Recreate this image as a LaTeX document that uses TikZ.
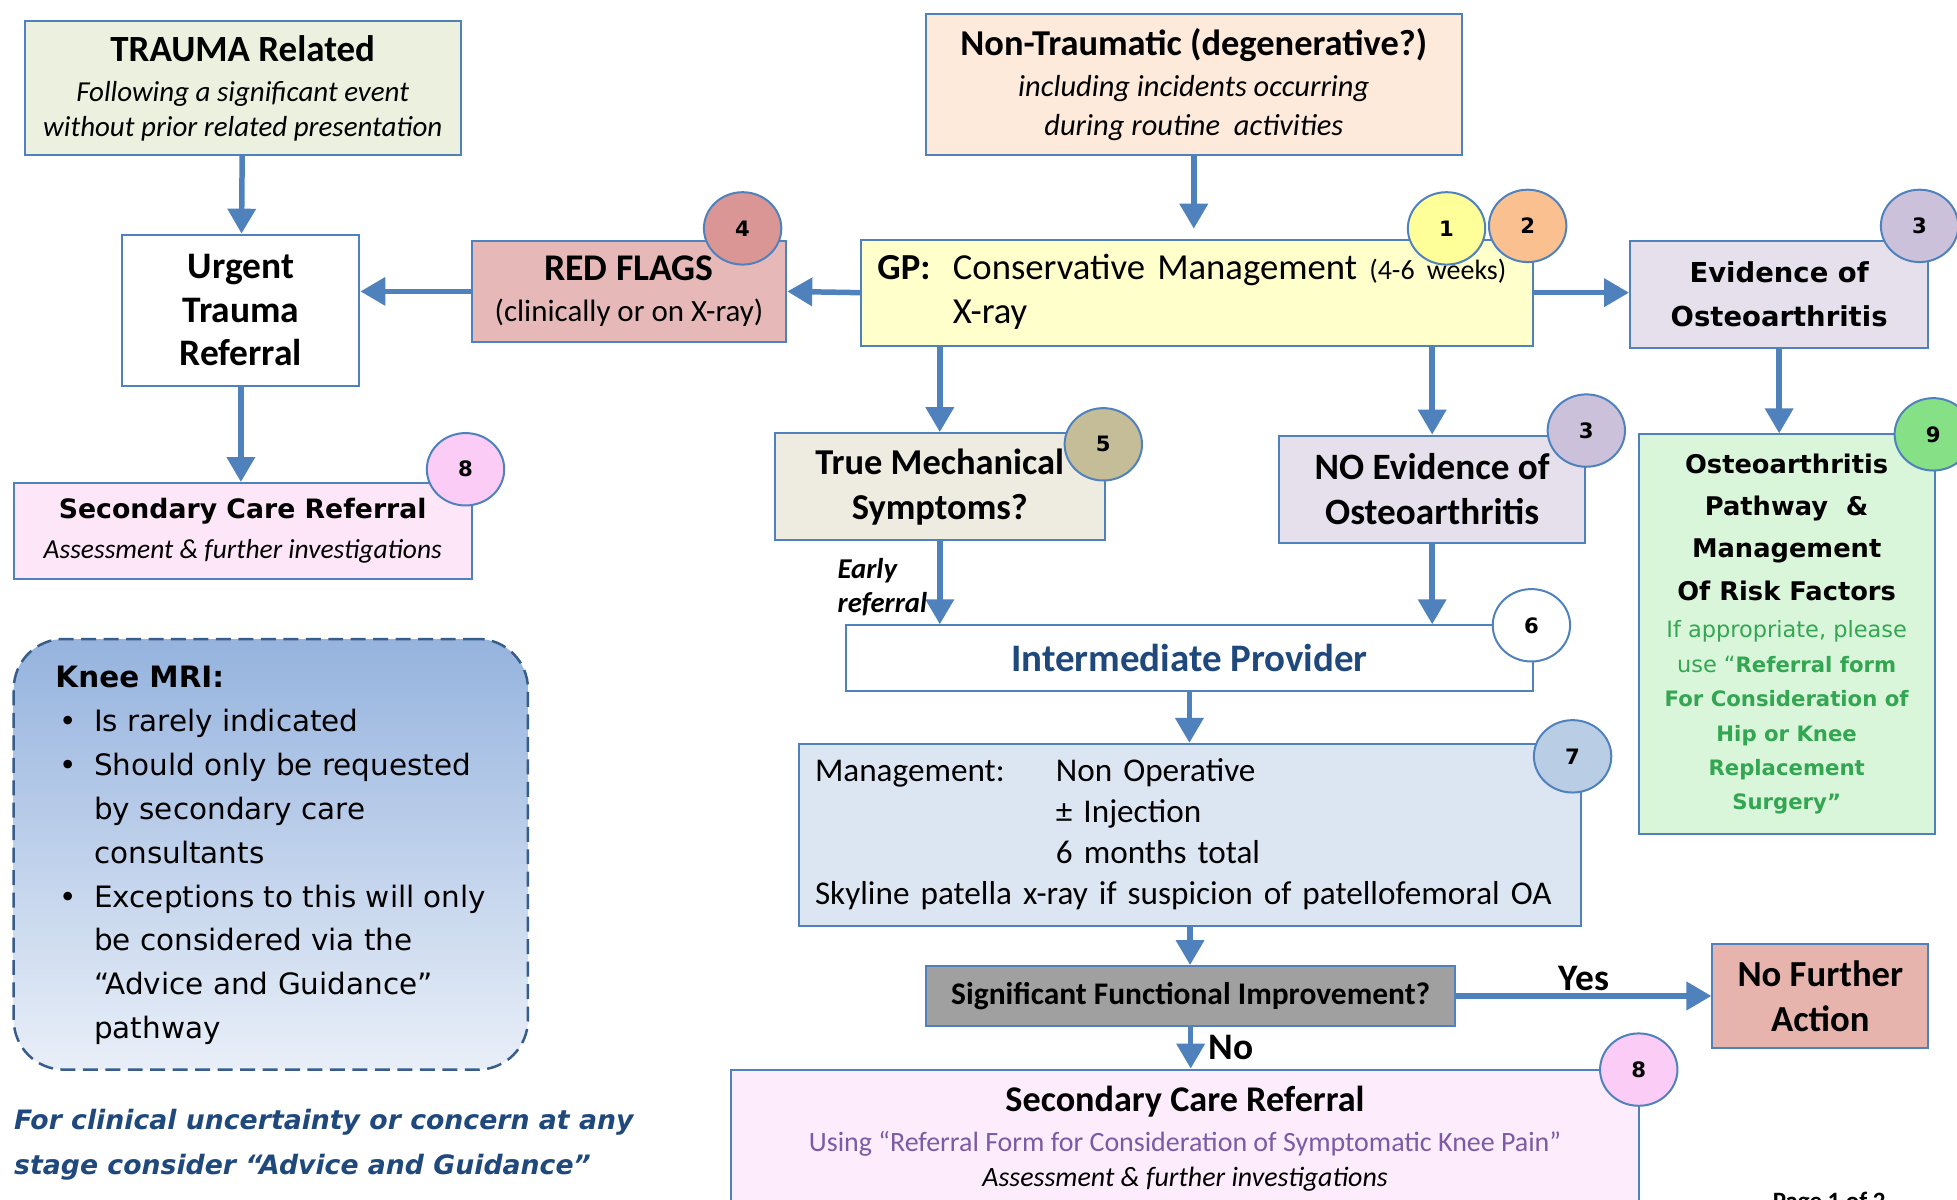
\documentclass[tikz,border=0pt]{standalone}
\usepackage{fontspec}
\setmainfont{Carlito}
\newfontfamily\vfont{DejaVu Sans}
\usetikzlibrary{arrows.meta,shapes.geometric}
\newcommand{\fsz}[2]{\fontsize{#1}{#2}\selectfont}
\newcommand{\oahead}[1]{{\color{black}\fsz{10.3}{13.8}#1}}
\definecolor{bordblue}{RGB}{79,129,189}
\definecolor{traumafill}{RGB}{235,241,222}
\definecolor{nontraumafill}{RGB}{253,234,218}
\definecolor{redfill}{RGB}{230,185,184}
\definecolor{gpfill}{RGB}{255,255,204}
\definecolor{oafill}{RGB}{229,224,236}
\definecolor{mechfill}{RGB}{238,236,225}
\definecolor{pathfill}{RGB}{218,246,218}
\definecolor{pinkfill}{RGB}{252,230,248}
\definecolor{pinkpale}{RGB}{253,236,251}
\definecolor{mgmtfill}{RGB}{220,230,242}
\definecolor{greyfill}{RGB}{160,160,160}
\definecolor{nfafill}{RGB}{230,180,172}
\definecolor{mritop}{RGB}{149,179,222}
\definecolor{mribot}{RGB}{233,239,248}
\definecolor{mriline}{RGB}{56,93,138}
\definecolor{darkblue}{RGB}{31,73,125}
\definecolor{oagreen}{RGB}{51,166,82}
\definecolor{formpurple}{RGB}{123,90,166}
% badge colours
\definecolor{bdgred}{RGB}{217,150,148}
\definecolor{bdgyellow}{RGB}{255,255,153}
\definecolor{bdgorange}{RGB}{250,192,144}
\definecolor{bdglilac}{RGB}{204,193,218}
\definecolor{bdgkhaki}{RGB}{196,189,151}
\definecolor{bdggreen}{RGB}{134,224,134}
\definecolor{bdgpink}{RGB}{250,204,246}
\definecolor{bdgblue}{RGB}{185,205,229}
\begin{document}
\begin{tikzpicture}[x=0.5pt,y=-0.5pt,
  every node/.style={inner sep=0pt,align=center},
  box/.style={draw=bordblue,line width=0.8pt,rectangle},
  badge/.style={draw=bordblue,line width=0.8pt,ellipse,minimum width=31pt,minimum height=29pt,
    font=\vfont\bfseries\fsz{8.5}{10}},
  flow/.style={draw=bordblue,line width=2.2pt,-{Triangle[length=10pt,width=11pt]}},
  elabel/.style={font=\bfseries\fsz{15}{17}}
]
\useasboundingbox (0,0) rectangle (1568,961);
\fill[white] (0,0) rectangle (1568,961);

% the boxes
\node[box,fill=traumafill,minimum width=174.5pt,minimum height=53.5pt,font=\itshape\fsz{11.6}{14}] (trauma) at (194.5,70.5)
  {{\upshape\bfseries\fsz{14.8}{14}TRAUMA Related}\\[2pt]Following a significant event\\without prior related presentation};
\node[box,fill=nontraumafill,minimum width=214.5pt,minimum height=56.5pt,font=\itshape\fsz{12.2}{15.5}] (nontrauma) at (956.5,67.5)
  {{\upshape\bfseries\fsz{14.6}{15.5}Non-Traumatic (degenerative?)}\\[1pt]including incidents occurring\\during routine\ \ activities};
\node[box,fill=white,minimum width=95pt,minimum height=60.5pt,font=\bfseries\fsz{15}{17.5}] (urgent) at (193,248.5) {Urgent\\Trauma\\Referral};
\node[box,fill=redfill,minimum width=126pt,minimum height=40.5pt,font=\fsz{12.4}{16.5}] (redflags) at (504,233.5)
  {{\bfseries\fsz{15.1}{16.5}RED FLAGS}\\(clinically or on X-ray)};
\node[box,fill=gpfill,text width=256pt,inner xsep=6.5pt,minimum height=42.5pt,align=left,font=\fsz{14.7}{17.5}] (gp) at (959,234.5)
  {\begin{tabular}{@{}l@{\hspace{9pt}}l@{}}\textbf{GP:}&Conservative Management {\fsz{11.2}{14}(4-6 weeks)}\\&X-ray\end{tabular}};
\node[box,fill=oafill,minimum width=119.5pt,minimum height=43pt,font=\vfont\bfseries\fsz{11}{17.5}] (evid) at (1425.5,236) {Evidence of\\Osteoarthritis};
\node[box,fill=mechfill,minimum width=132pt,minimum height=43pt,font=\bfseries\fsz{14.6}{18}] (mech) at (753,390) {True Mechanical\\Symptoms?};
\node[box,fill=oafill,minimum width=122.5pt,minimum height=43pt,font=\bfseries\fsz{14.9}{18}] (noevid) at (1147.5,392) {NO Evidence of\\Osteoarthritis};
\node[box,fill=pathfill,minimum width=118.5pt,minimum height=160pt,text=oagreen,font=\vfont\bfseries\fsz{8.5}{13.8}] (oapath) at (1431.5,508)
  {\oahead{Osteoarthritis}\\[3.2pt]\oahead{Pathway\ \ \&}\\[3.2pt]\oahead{Management}\\[3.2pt]\oahead{Of Risk Factors}\\[1.2pt]
   {\mdseries\fsz{9}{13.8}If appropriate, please}\\{\mdseries\fsz{9}{13.8}use “}Referral form\\For Consideration of\\Hip or Knee\\Replacement\\Surgery”};
\node[box,fill=pinkfill,minimum width=183.5pt,minimum height=38.5pt,font=\itshape\fsz{11}{16}] (secleft) at (194.5,425.5)
  {{\upshape\vfont\bfseries\fsz{10.7}{16}Secondary Care Referral}\\Assessment \& further investigations};

% knee MRI note
\node[draw=mriline,line width=1pt,dash pattern=on 6pt off 3pt,rounded corners=20pt,top color=mritop,bottom color=mribot,
  minimum width=206pt,minimum height=172.5pt,font=\vfont\fsz{11.8}{17.6}] (mri) at (217,684.5)
  {\begin{tabular}{@{\hspace{1.5pt}}p{14pt}@{}l@{}}
   \multicolumn{2}{@{}l@{}}{\bfseries Knee MRI:}\\
   \textbullet&Is rarely indicated\\
   \textbullet&Should only be requested\\
   &by secondary care\\
   &consultants\\
   \textbullet&Exceptions to this will only\\
   &be considered via the\\
   &“Advice and Guidance”\\
   &pathway
   \end{tabular}};
\node[anchor=west,align=left,text=darkblue,font=\vfont\bfseries\itshape\fsz{10.7}{18}] (advice) at (11,917)
  {For clinical uncertainty or concern at any\\stage consider “Advice and Guidance”};

\node[box,fill=white,minimum width=275pt,minimum height=26.5pt,text=darkblue,font=\bfseries\fsz{15.6}{18}] (inter) at (953,527.5) {Intermediate Provider};
\node[box,fill=mgmtfill,text width=300.5pt,inner xsep=6.5pt,minimum height=73pt,align=left,font=\fsz{13.3}{16.5}] (mgmt) at (953.5,669)
  {\begin{tabular}{@{}p{96.5pt}@{}l@{}}Management:&Non Operative\\&± Injection\\&6 months total\\
   \multicolumn{2}{@{}l@{}}{Skyline patella x-ray if suspicion of patellofemoral OA}\end{tabular}};
\node[box,fill=greyfill,minimum width=212pt,minimum height=24pt,font=\bfseries\fsz{12.6}{15}] (sig) at (954,798) {Significant Functional Improvement?};
\node[box,fill=nfafill,minimum width=86.5pt,minimum height=42pt,font=\bfseries\fsz{14.7}{18}] (nfa) at (1458.5,798) {No Further\\Action};
\node[box,fill=pinkpale,minimum width=363.5pt,minimum height=55pt,font=\fsz{11.2}{14}] (secbot) at (949.5,912)
  {{\bfseries\fsz{14.5}{14}Secondary Care Referral}\\[2pt]{\color{formpurple}Using “Referral Form for Consideration of Symptomatic Knee Pain”}\\{\itshape Assessment \& further investigations}};
\node[anchor=base west,font=\bfseries\fsz{10}{12}] (page) at (1420,969) {Page 1 of 2};

% the numbered badges
\foreach \nm/\bx/\by/\col/\num in {bone/1159/183/bdgyellow/1, btwo/1224/181/bdgorange/2, bevid/1538/181/bdglilac/3,
    bred/595/183/bdgred/4, bmech/884/356/bdgkhaki/5, bnoevid/1271/345/bdglilac/3, bpath/1549/348/bdggreen/9,
    bsecl/373/376/bdgpink/8, binter/1227/501/white/6, bmgmt/1260/606/bdgblue/7, bsecb/1313/857/bdgpink/8}
  \node[badge,fill=\col] (\nm) at (\bx,\by) {\num};

% the edges
\draw[flow] (trauma) -- (urgent);
\draw[flow,shorten >=4pt] (nontrauma) -- (nontrauma |- gp.north);
\draw[flow] (gp.west) -- (redflags.east);
\draw[flow] (redflags.west) -- (redflags.west -| urgent.east);
\draw[flow] (urgent) -- (urgent |- secleft.north);
\draw[flow] (gp.east) -- (gp.east -| evid.west);
\draw[flow] (gp.south -| mech.north) -- (mech.north);
\draw[flow] (gp.south -| noevid.north) -- (noevid.north);
\draw[flow] (evid) -- (evid |- oapath.north);
\draw[flow] (mech) -- node[pos=0.55,left=4pt,align=left,font=\bfseries\itshape\fsz{11.5}{13.5}] (early) {Early\\referral} (mech |- inter.north);
\draw[flow] (noevid) -- (noevid |- inter.north);
\draw[flow] (inter) -- (inter |- mgmt.north);
\draw[flow] (mgmt) -- (mgmt |- sig.north);
\draw[flow] (sig) -- node[elabel,above=1pt] (yes) {Yes} (nfa);
\draw[flow] (sig) -- node[elabel,right=6pt] (no) {No} (sig |- secbot.north);
\end{tikzpicture}
\end{document}
